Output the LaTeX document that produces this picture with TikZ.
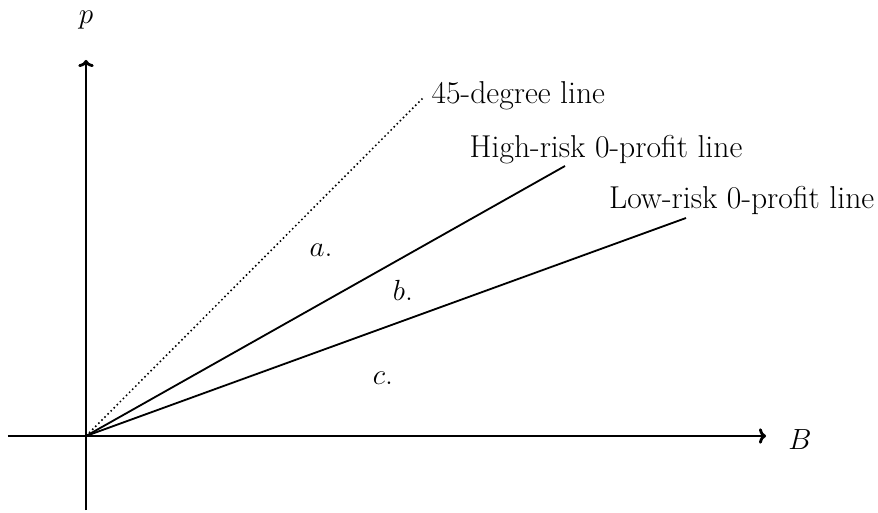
\documentclass[tikz,border=0pt]{standalone}
\usetikzlibrary{arrows.meta}

\begin{document}
\begin{tikzpicture}[
    axis/.style={line width=2pt, -{To[length=5pt,width=11pt]}},
    zeroline/.style={line width=1.3pt},
    lbl/.style={font=\fontsize{22.5}{26}\selectfont, inner sep=1pt},
  ]
  % Parameters
  \def\xmin{-1.95}
  \def\xmax{17.0}
  \def\ymin{-1.85}
  \def\ymax{9.4}

  % Page frame
  \useasboundingbox (-2.15,-1.925) rectangle (19.8,10.9);

  % Axes
  \coordinate (O) at (0,0);
  \coordinate (xl) at (\xmin,0);
  \coordinate (xr) at (\xmax,0);
  \coordinate (yb) at (0,\ymin);
  \coordinate (yt) at (0,\ymax);
  \draw[axis] (xl) -- (xr);
  \draw[axis] (yb) -- (yt);
  \node[lbl] (B) at (17.85,-0.1) {$B$};
  \node[lbl] (p) at (0,10.4) {$p$};

  % Line end points
  \coordinate (degend) at (8.45,8.475);
  \coordinate (hiend) at (11.975,6.75);
  \coordinate (loend) at (15.0,5.45);

  % 45-degree and zero-profit lines
  \draw[line width=1.1pt, dotted] (O) -- (degend);
  \draw[zeroline] (O) -- (hiend);
  \draw[zeroline] (O) -- (loend);

  % Line labels
  \node[lbl, anchor=west] (deglbl) at (8.6,8.5) {45-degree line};
  \node[lbl, anchor=west] (hilbl) at (9.55,7.15) {High-risk 0-profit line};
  \node[lbl, anchor=east] (lolbl) at (19.75,5.9) {Low-risk 0-profit line};

  % Points
  \node[lbl] (a) at (5.875,4.65) {$a$.};
  \node[lbl] (b) at (7.925,3.65) {$b$.};
  \node[lbl] (c) at (7.425,1.45) {$c$.};

\end{tikzpicture}
\end{document}
